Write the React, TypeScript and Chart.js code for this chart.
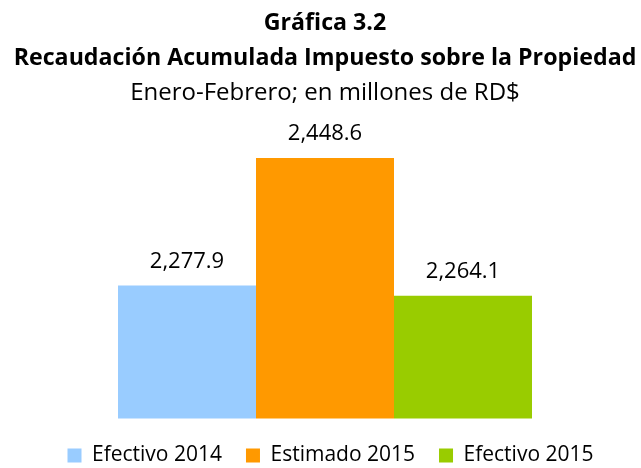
import React, { useEffect, useRef } from "react";
import { Chart, registerables } from "chart.js";

Chart.register(...registerables);

const categories = ["Enero-Febrero"];
const seriesNames = ["Efectivo 2014", "Estimado 2015", "Efectivo 2015"];
const seriesValues = [2277.9, 2448.6, 2264.1];
const seriesColors = ["#99CCFF", "#FF9900", "#99CC00"];
const titleLines = ["Gráfica 3.2", "Recaudación Acumulada Impuesto sobre la Propiedad"];
const subtitleText = "Enero-Febrero; en millones de RD$";

const FONT = "'Open Sans', Lato, sans-serif";

const fmt = (v: number) =>
  v.toLocaleString("en-US", { minimumFractionDigits: 1, maximumFractionDigits: 1 });

const valueLabels = {
  id: "valueLabels",
  afterDatasetsDraw(chart: any) {
    const ctx = chart.ctx;
    ctx.save();
    ctx.font = `22px ${FONT}`;
    ctx.fillStyle = "#000";
    ctx.textAlign = "center";
    ctx.textBaseline = "alphabetic";
    chart.data.datasets.forEach((ds: any, i: number) => {
      const meta = chart.getDatasetMeta(i);
      meta.data.forEach((bar: any, j: number) => {
        ctx.fillText(fmt(ds.data[j]), bar.x, bar.y - 18);
      });
    });
    ctx.restore();
  },
};

const legendShift = {
  id: "legendShift",
  afterLayout(chart: any) {
    const lg = chart.legend;
    if (lg) {
      lg.left += 5.5;
      lg.right += 5.5;
      lg.top += 2.5;
      lg.bottom += 2.5;
    }
  },
};

export default function App() {
  const ref = useRef<HTMLCanvasElement | null>(null);
  useEffect(() => {
    if (!ref.current) return;
    const chart = new Chart(ref.current, {
      type: "bar",
      data: {
        labels: categories,
        datasets: seriesNames.map((name, i) => ({
          label: name,
          data: [seriesValues[i]],
          backgroundColor: seriesColors[i],
          borderWidth: 0,
          barPercentage: 1,
          categoryPercentage: 414 / 632,
        })),
      },
      options: {
        animation: false,
        responsive: false,
        layout: { padding: { left: 9, right: 0, top: 0, bottom: -5.5 } },
        scales: {
          x: { display: false },
          y: { display: false, min: 2100, max: 2500 },
        },
        plugins: {
          tooltip: { enabled: false },
          title: {
            display: true,
            text: titleLines,
            color: "#000",
            font: { family: FONT, size: 23.2, weight: "bold", lineHeight: 35 / 23.2 },
            padding: { top: 6, bottom: 0 },
          },
          subtitle: {
            display: true,
            text: subtitleText,
            color: "#000",
            font: { family: FONT, size: 24, weight: "normal", lineHeight: 35 / 24 },
            padding: { top: 0, bottom: 8.5 },
          },
          legend: {
            position: "bottom",
            labels: {
              color: "#000",
              boxWidth: 14,
              boxHeight: 14,
              padding: 24,
              font: { family: FONT, size: 21 },
            },
          },
        },
      },
      plugins: [valueLabels, legendShift],
    });
    return () => chart.destroy();
  }, []);
  return (
    <div style={{ position: "fixed", left: 0, top: 0, width: 641, height: 468, background: "#fff" }}>
      <canvas ref={ref} width={641} height={468} style={{ width: 641, height: 468 }} />
    </div>
  );
}
